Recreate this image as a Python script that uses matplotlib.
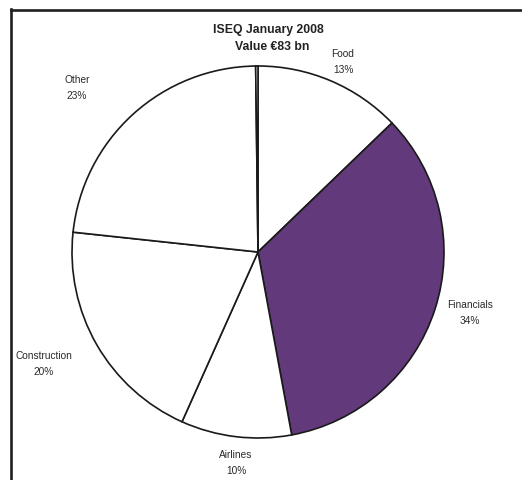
import matplotlib
matplotlib.use("Agg")
import matplotlib.pyplot as plt
from matplotlib.lines import Line2D

plt.rcParams['font.family'] = ['Liberation Sans', 'DejaVu Sans']

# ---- data ----
categories = ["Food", "Financials", "Airlines", "Construction", "Other", ""]
values = [12.8, 34.3, 9.6, 20.0, 23.1, 0.2]
colors = ["#ffffff", "#62397a", "#ffffff", "#ffffff", "#ffffff", "#ffffff"]
title_lines = ["ISEQ January 2008", "Value €83 bn"]

# label positions (pixel layout, x, y from top)
label_pos = [(343, 62), (470, 313), (236, 463), (44, 364), (77, 88), None]

W, H = 522, 480
fig = plt.figure(figsize=(W / 100, H / 100), dpi=100)
ax = fig.add_axes([0, 0, 1, 1])

ax.pie(values, colors=colors, startangle=90, counterclock=False,
       center=(258, H - 252), radius=186, frame=True,
       wedgeprops=dict(edgecolor="#1a1a1a", linewidth=1.2))
ax.set_xlim(0, W)
ax.set_ylim(0, H)
ax.axis('off')

total = sum(values)
for name, v, pos in zip(categories, values, label_pos):
    if not name or pos is None:
        continue
    ax.text(pos[0], H - pos[1], f"{name}\n{round(v / total * 100):.0f}%",
            ha='center', va='center', multialignment='center',
            fontsize=7.3, color="#2a2a2a", linespacing=1.75)

ax.text(268, H - 30, title_lines[0], ha='center', va='center',
        fontsize=8.8, fontweight='bold', color="#222222")
ax.text(272, H - 47, title_lines[1], ha='center', va='center',
        fontsize=8.8, fontweight='bold', color="#222222")

# outer frame (cut off at right and bottom)
fig.add_artist(Line2D([10.5 / W, 10.5 / W], [0, 1 - 9 / H], transform=fig.transFigure,
                      color="#231f20", linewidth=1.9, solid_capstyle='projecting'))
fig.add_artist(Line2D([10.5 / W, 1], [1 - 10.3 / H, 1 - 10.3 / H], transform=fig.transFigure,
                      color="#231f20", linewidth=1.9, solid_capstyle='projecting'))

fig.savefig("out.png", dpi=100, facecolor="white")
